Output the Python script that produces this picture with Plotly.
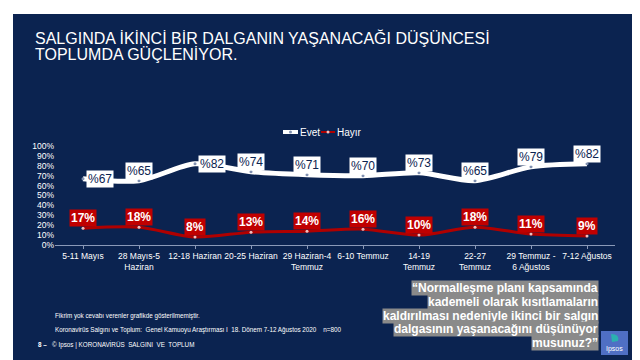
import plotly.graph_objects as go

categories = ["5-11 Mayıs", "28 Mayıs-5<br>Haziran", "12-18 Haziran", "20-25 Haziran",
              "29 Haziran-4<br>Temmuz", "6-10 Temmuz", "14-19<br>Temmuz", "22-27<br>Temmuz",
              "29 Temmuz -<br>6 Ağustos", "7-12 Ağustos"]
evet = [67, 65, 82, 74, 71, 70, 73, 65, 79, 82]
hayir = [17, 18, 8, 13, 14, 16, 10, 18, 11, 9]
y_ticks = [0, 10, 20, 30, 40, 50, 60, 70, 80, 90, 100]

NAVY = "#0b2350"
RED = "#c00000"
FONT = "Liberation Sans, Arial"

W, H = 640, 360
L, R_EDGE, TOP, BOT = 47, 607, 138, 237


def px(x):
    return (x - L) / (R_EDGE - L)


def py(y):
    return (BOT - y) / (BOT - TOP)


xs = list(range(len(categories)))

fig = go.Figure()
fig.add_trace(go.Scatter(
    x=xs, y=evet, name="Evet", mode="lines+markers",
    line=dict(color="white", width=5, shape="spline", smoothing=0.8),
    marker=dict(color="#8090b0", size=3), cliponaxis=False, showlegend=False))
fig.add_trace(go.Scatter(
    x=xs, y=hayir, name="Hayır", mode="lines+markers",
    line=dict(color="#b00000", width=3, shape="spline", smoothing=0.8),
    marker=dict(color="#f0c0c0", size=3), cliponaxis=False, showlegend=False))

annotations = []
for i, v in enumerate(evet):
    xshift, yshift = (17, 0) if i in (0, 2) else (0, 10)
    annotations.append(dict(
        x=i, y=v, xref="x", yref="y", text=f"%{v}", showarrow=False,
        xshift=xshift, yshift=yshift, bgcolor="white", borderpad=1,
        font=dict(family=FONT, size=12, color=NAVY)))
for i, v in enumerate(hayir):
    annotations.append(dict(
        x=i, y=v, xref="x", yref="y", text=f"<b>{v}%</b>", showarrow=False,
        yshift=10, bgcolor=RED, borderpad=1,
        font=dict(family=FONT, size=12, color="white")))

# Title
title_lines = ["SALGINDA İKİNCİ BİR DALGANIN YAŞANACAĞI DÜŞÜNCESİ", "TOPLUMDA GÜÇLENİYOR."]
for k, t in enumerate(title_lines):
    annotations.append(dict(
        x=px(26), y=py(30 + 15.5 * k), xref="paper", yref="paper", xanchor="left",
        yanchor="middle", text=t, showarrow=False, align="left", borderpad=0,
        font=dict(family=FONT, size=16, color="white")))

# Custom legend
legend_items = [("Evet", 290), ("Hayır", 327)]
for name, x0 in legend_items:
    annotations.append(dict(
        x=px(x0), y=py(124), xref="paper", yref="paper", xanchor="left", yanchor="middle",
        text=name, showarrow=False, font=dict(family=FONT, size=10, color="white")))

# Quote
quote_lines = ["“Normalleşme planı kapsamında", "kademeli olarak kısıtlamaların",
               "kaldırılması nedeniyle ikinci bir salgın", "dalgasının yaşanacağını düşünüyor",
               "musunuz?”"]
for k, line in enumerate(quote_lines):
    annotations.append(dict(
        x=px(591), y=py(280 + 13.8 * k), xref="paper", yref="paper",
        xanchor="right", yanchor="middle", text=f"<b>{line}</b>", showarrow=False,
        bgcolor="#8a8a8a", borderpad=0,
        font=dict(family=FONT, size=12, color="white")))

# Footer
footer = [
    (45, 308, "Fikrim yok cevabı verenler grafikde gösterilmemiştir."),
    (45, 322, "Koronavirüs Salgını ve Toplum:  Genel Kamuoyu Araştırması I  18. Dönem 7-12 Ağustos 2020    n=800"),
    (28, 336, "<b>8 –</b>   © Ipsos | KORONAVİRÜS  SALGINI  VE  TOPLUM"),
]
for x0, y0, t in footer:
    annotations.append(dict(
        x=px(x0), y=py(y0), xref="paper", yref="paper", xanchor="left", yanchor="middle",
        text=t, showarrow=False, font=dict(family=FONT, size=6.3, color="white")))

annotations.append(dict(
    x=px(606.5), y=py(341), xref="paper", yref="paper", xanchor="center", yanchor="middle",
    text="Ipsos", showarrow=False, font=dict(family=FONT, size=7, color="white")))

shapes = [
    dict(type="rect", xref="paper", yref="paper", x0=px(5), x1=px(635), y0=py(6), y1=py(354),
         fillcolor=NAVY, line=dict(width=0), layer="below"),
    dict(type="rect", xref="paper", yref="paper", x0=px(593), x1=px(620), y0=py(323), y1=py(347),
         fillcolor="#4f6fc4", line=dict(width=0), layer="above"),
    dict(type="path", xref="paper", yref="paper",
         path=f"M {px(603)},{py(326)} Q {px(612)},{py(326)} {px(610)},{py(333)} L {px(604)},{py(334)} Z",
         fillcolor="#2bb0b0", line=dict(width=0), layer="above"),
    # legend symbols
    dict(type="line", xref="paper", yref="paper", x0=px(275), x1=px(290), y0=py(124), y1=py(124),
         line=dict(color="white", width=4)),
    dict(type="circle", xref="paper", yref="paper", x0=px(281), x1=px(284), y0=py(122.5), y1=py(125.5),
         fillcolor="#8090b0", line=dict(width=0)),
    dict(type="line", xref="paper", yref="paper", x0=px(313), x1=px(327), y0=py(124), y1=py(124),
         line=dict(color="#b00000", width=2)),
    dict(type="circle", xref="paper", yref="paper", x0=px(318.5), x1=px(321.5), y0=py(122.5), y1=py(125.5),
         fillcolor="#f0c0c0", line=dict(width=0)),
]

fig.update_layout(
    width=W, height=H,
    margin=dict(l=L, r=W - R_EDGE, t=TOP, b=H - BOT, autoexpand=False),
    paper_bgcolor="white", plot_bgcolor=NAVY,
    font=dict(family=FONT, color="white"),
    showlegend=False,
    xaxis=dict(range=[-0.5, 9.5], tickmode="array", tickvals=xs, ticktext=categories,
               automargin=False, tickangle=0,
               showgrid=False, zeroline=False, showline=True, linecolor="#8a99b8", linewidth=1,
               ticks="outside", ticklen=3, tickcolor="#8a99b8", tickson="boundaries",
               tickfont=dict(family=FONT, size=8.5, color="white")),
    yaxis=dict(range=[0, 100], tickmode="array", tickvals=y_ticks, automargin=False,
               ticktext=[f"{v}%" for v in y_ticks], showgrid=False, zeroline=False,
               showline=False, ticks="", tickfont=dict(family=FONT, size=8.5, color="white")),
    annotations=annotations, shapes=shapes,
)

fig.write_html("out.html")
